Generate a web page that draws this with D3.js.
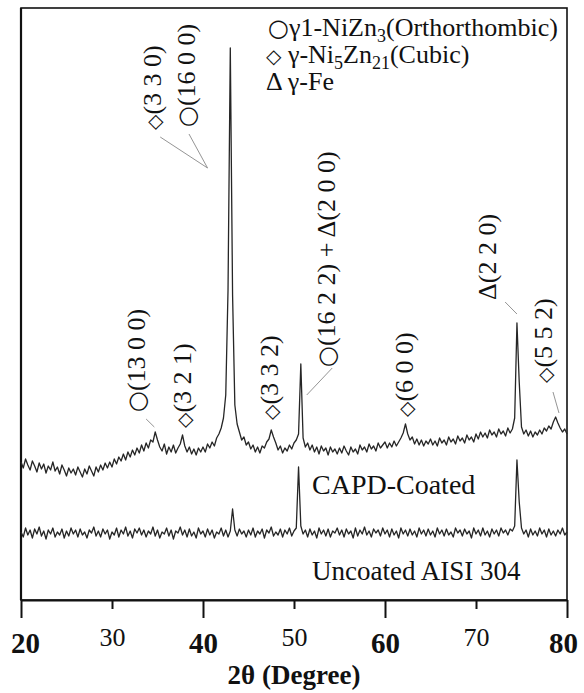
<!DOCTYPE html>
<html>
<head>
<meta charset="utf-8">
<script src="https://cdn.jsdelivr.net/npm/d3@7"></script>
<style>
  html, body { margin: 0; padding: 0; background: #fff; }
  svg { display: block; }
  text { font-family: "Liberation Serif", "Times New Roman", serif; fill: #111; }
</style>
</head>
<body>
<svg id="chart" width="584" height="693"></svg>
<script>
// ---------------- DATA ----------------
// 2θ sampling grid (degrees): 20.00 .. 80.00 step 0.25
const thetaStart = 20, thetaStep = 0.25;

// CAPD-coated pattern, intensity (a.u., offset trace), one value per grid step
const coated = [
  138,132,141,135,130,139,134,128,137,131,136,127,134,130,138,129,133,126,135,130,
  124,132,127,131,125,133,128,123,131,126,134,129,124,133,128,135,130,137,132,138,
  133,141,136,143,139,146,140,148,143,150,145,152,147,155,149,157,152,160,158,168,
  160,153,149,156,146,153,148,155,147,152,156,165,154,148,153,146,151,145,152,148,
  153,148,156,152,158,154,162,166,172,182,205,310,552,305,195,176,168,160,163,155,
  158,151,155,148,153,147,154,152,158,161,170,163,157,150,154,147,152,149,155,151,
  157,160,166,236,162,153,157,150,155,148,153,146,154,149,152,145,153,148,151,146,
  152,147,154,149,145,153,148,151,146,155,150,153,148,156,151,154,149,157,152,155,
  158,152,157,153,159,154,158,162,167,176,166,160,163,156,161,155,160,154,159,156,
  161,155,159,154,162,157,160,155,163,158,161,156,164,159,162,157,165,160,163,158,
  166,161,168,163,167,162,170,165,168,163,171,166,169,164,172,167,171,182,277,218,
  173,166,170,164,169,163,168,165,170,166,172,169,174,171,178,183,177,172,168,171,
  166
];

// Uncoated AISI 304 pattern, intensity (a.u.)
const uncoated = [
  68,63,72,65,70,62,71,66,73,64,69,61,70,66,72,63,68,65,71,62,
  69,64,72,66,70,63,71,65,68,62,70,67,73,64,69,63,71,66,70,61,
  68,65,72,63,70,66,73,64,69,62,71,67,72,65,70,63,69,66,73,64,
  70,62,68,66,72,64,70,61,69,67,73,65,70,63,71,64,68,62,72,66,
  69,63,71,65,70,62,68,66,72,64,70,63,69,91,70,64,71,66,69,63,
  70,65,72,63,69,66,71,62,70,67,73,64,68,65,71,63,70,66,72,64,
  69,72,133,74,66,70,63,71,65,69,62,72,66,70,64,71,63,69,67,72,
  65,70,63,71,66,69,62,72,64,70,66,73,65,69,63,71,67,70,64,72,
  66,70,63,71,65,69,62,72,66,70,64,71,65,69,63,72,66,70,64,71,
  65,69,63,72,66,70,64,71,65,68,63,72,67,70,64,71,66,69,62,72,
  66,70,64,72,65,69,63,71,66,70,64,72,67,70,65,71,69,74,140,98,
  72,66,70,63,71,65,69,64,72,66,70,63,71,65,69,64,70,66,72,65,
  68
];

const xTicks = [20, 30, 40, 50, 60, 70, 80];
const majorTicks = [20, 40, 60, 80];
const xTitle = "2θ (Degree)";
const seriesNames = ["CAPD-Coated", "Uncoated AISI 304"];

// Peak annotations: label text, 2θ of label, intensity at label foot
const peakLabels = ["○(13 0 0)", "◇(3 2 1)", "◇(3 3 0)", "○(16 0 0)", "◇(3 3 2)",
                    "○(16 2 2) + Δ(2 0 0)", "◇(6 0 0)", "Δ(2 2 0)", "◇(5 5 2)"];
const peakLabelTheta = [32.75, 37.8, 34.5, 38.24, 47.4, 53.6, 62.2, 71.3, 77.5];
const peakLabelFoot  = [188, 172, 470, 473, 180, 233, 183, 300, 217];

// ---------------- LAYOUT ----------------
const svg = d3.select("#chart");
const L = 21, R = 567, T = 8, B = 600;
const x = d3.scaleLinear().domain([20, 80]).range([L, R]);
const y = d3.scaleLinear().domain([0, 592]).range([B, T]);

const toPts = arr => arr.map((v, i) => [thetaStart + i * thetaStep, v]);
const line = d3.line().x(d => x(d[0])).y(d => y(d[1]));

// frame
svg.append("rect").attr("x", L).attr("y", T).attr("width", R - L).attr("height", B - T)
  .attr("fill", "none").attr("stroke", "#111").attr("stroke-width", 1.6);
svg.append("line").attr("x1", L).attr("x2", L).attr("y1", T).attr("y2", B)
  .attr("stroke", "#111").attr("stroke-width", 2.2);

// curves
[coated, uncoated].forEach(s => {
  svg.append("path").datum(toPts(s)).attr("d", line)
    .attr("fill", "none").attr("stroke", "#262626").attr("stroke-width", 1.3)
    .attr("stroke-linejoin", "round");
});

// x axis
const ax = svg.append("g").attr("transform", `translate(0,${B})`)
  .call(d3.axisBottom(x).tickValues(xTicks).tickSize(18).tickSizeOuter(0).tickFormat(d3.format("d")));
ax.select(".domain").attr("stroke", "#111").attr("stroke-width", 2.2);
ax.selectAll(".tick line").attr("stroke", "#111").attr("stroke-width", 2)
  .attr("y2", d => majorTicks.includes(d) ? 18 : 9);
ax.selectAll(".tick text")
  .attr("fill", "#111")
  .style("font-family", '"Liberation Serif", serif')
  .style("font-size", d => majorTicks.includes(d) ? "29px" : "26px")
  .style("font-weight", d => majorTicks.includes(d) ? "bold" : "normal")
  .attr("dy", null)
  .attr("y", d => majorTicks.includes(d) ? 53 : 46)
  .attr("dx", d => d === 80 ? -4 : (d === 20 ? 4 : 0));

svg.append("text").attr("x", (L + R) / 2).attr("y", 684)
  .attr("text-anchor", "middle").style("font-size", "27px").style("font-weight", "bold")
  .text(xTitle);

// series labels
svg.append("text").attr("x", 312).attr("y", 494).style("font-size", "28px").text(seriesNames[0]);
svg.append("text").attr("x", 312).attr("y", 580).style("font-size", "27px").text(seriesNames[1]);

// legend
const SYM = '"DejaVu Sans", sans-serif';
const lg = svg.append("g").style("font-size", "26px");
const l1 = lg.append("text").attr("x", 268).attr("y", 36);
l1.append("tspan").style("font-family", SYM).style("font-size", "24px").text("○");
l1.append("tspan").text("γ1-NiZn");
l1.append("tspan").attr("dy", 6).style("font-size", "18px").text("3");
l1.append("tspan").attr("dy", -6).text("(Orthorthombic)");
const l2 = lg.append("text").attr("x", 266).attr("y", 63);
l2.append("tspan").style("font-family", SYM).style("font-size", "20px").text("◇");
l2.append("tspan").text(" γ-Ni");
l2.append("tspan").attr("dy", 6).style("font-size", "18px").text("5");
l2.append("tspan").attr("dy", -6).text("Zn");
l2.append("tspan").attr("dy", 6).style("font-size", "18px").text("21");
l2.append("tspan").attr("dy", -6).text("(Cubic)");
lg.append("text").attr("x", 266).attr("y", 90).text("Δ γ-Fe");

// rotated peak labels
peakLabels.forEach((t, i) => {
  const px = x(peakLabelTheta[i]) + 8, py = y(peakLabelFoot[i]);
  const tx = svg.append("text").attr("transform", `translate(${px},${py}) rotate(-90)`)
    .style("font-size", "26px");
  t.split(/([○◇])/).filter(s => s.length).forEach(part => {
    if (part === "○") tx.append("tspan").style("font-family", SYM).style("font-size", "24px").text(part);
    else if (part === "◇") tx.append("tspan").style("font-family", SYM).style("font-size", "20px").text(part);
    else tx.append("tspan").text(part);
  });
});

// leader lines (label -> peak)
const leaders = [
  [[35.3, 463], [40.5, 432]], [[38.46, 466], [40.5, 432]],
  [[33.75, 181], [34.65, 173]], [[54.2, 232], [51.4, 205]],
  [[73.2, 298], [74.5, 286]], [[78.46, 208], [79.12, 187]]
];
leaders.forEach(seg => {
  svg.append("line")
    .attr("x1", x(seg[0][0])).attr("y1", y(seg[0][1]))
    .attr("x2", x(seg[1][0])).attr("y2", y(seg[1][1]))
    .attr("stroke", "#888").attr("stroke-width", 0.9);
});
</script>
</body>
</html>
